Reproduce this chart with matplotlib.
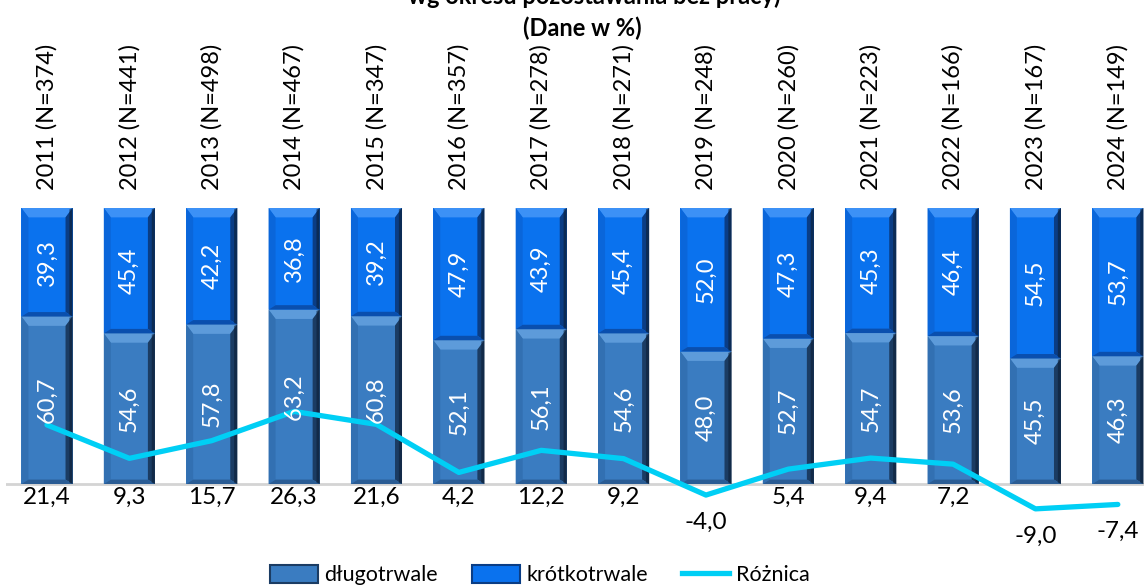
import matplotlib
matplotlib.use("Agg")
import matplotlib.pyplot as plt
from matplotlib.patches import Polygon, Patch
from matplotlib.lines import Line2D

plt.rcParams['font.family'] = ['Lato', 'DejaVu Sans']

years = ["2011", "2012", "2013", "2014", "2015", "2016", "2017", "2018", "2019",
         "2020", "2021", "2022", "2023", "2024"]
n_values = [374, 441, 498, 467, 347, 357, 278, 271, 248, 260, 223, 166, 167, 149]
dlugotrwale = [60.7, 54.6, 57.8, 63.2, 60.8, 52.1, 56.1, 54.6, 48.0, 52.7, 54.7, 53.6, 45.5, 46.3]
krotkotrwale = [39.3, 45.4, 42.2, 36.8, 39.2, 47.9, 43.9, 45.4, 52.0, 47.3, 45.3, 46.4, 54.5, 53.7]
roznica = [21.4, 9.3, 15.7, 26.3, 21.6, 4.2, 12.2, 9.2, -4.0, 5.4, 9.4, 7.2, -9.0, -7.4]
categories = [f"{y} (N={n})" for y, n in zip(years, n_values)]

def fmt(v):
    return f"{v:.1f}".replace(".", ",")

W, H = 1144, 586
fig = plt.figure(figsize=(W / 100, H / 100), dpi=100)
ax = fig.add_axes([5.8 / W, 1 - 519.9 / H, (1159 - 5.8) / W, (519.9 - 208) / H])
ax.set_xlim(-0.5, 13.5)
ax.set_ylim(-13, 100)
for s in ax.spines.values():
    s.set_visible(False)
ax.set_yticks([])

x = list(range(len(categories)))
bw = 0.62

dl_cols = dict(face='#3a7cc1', top='#5d9bda', left='#3270b2', right='#1b3c63', bottom='#2a5c94')
kr_cols = dict(face='#0a72ee', top='#3c91f6', left='#0a66da', right='#0a3d85', bottom='#0a4fae')

def bevel(ax, c, b, t, cols):
    w = bw / 2
    ex, ey, eb = 0.085, 3.4, 1.6
    ax.add_patch(Polygon([(c - w, t), (c + w, t), (c + w - ex, t - ey), (c - w + ex, t - ey)],
                         closed=True, facecolor=cols['top'], edgecolor='none', zorder=2.5))
    ax.add_patch(Polygon([(c - w, t), (c - w, b), (c - w + ex, b + eb), (c - w + ex, t - ey)],
                         closed=True, facecolor=cols['left'], edgecolor='none', zorder=2.5))
    ax.add_patch(Polygon([(c + w, t), (c + w, b), (c + w - ex, b + eb), (c + w - ex, t - ey)],
                         closed=True, facecolor=cols['right'], edgecolor='none', zorder=2.5))
    ax.add_patch(Polygon([(c + w - ex * 0.45, t - 0.5), (c + w - ex * 0.45, b + 0.5),
                          (c + w, b), (c + w, t)],
                         closed=True, facecolor='#0d1f36', edgecolor='none', alpha=0.6, zorder=2.6))
    ax.add_patch(Polygon([(c - w, b), (c + w, b), (c + w - ex, b + eb), (c - w + ex, b + eb)],
                         closed=True, facecolor=cols['bottom'], edgecolor='none', zorder=2.5))

ax.bar(x, dlugotrwale, width=bw, color=dl_cols['face'], zorder=2)
ax.bar(x, krotkotrwale, width=bw, bottom=dlugotrwale, color=kr_cols['face'], zorder=2)
for i in x:
    bevel(ax, i, 0, dlugotrwale[i], dl_cols)
    bevel(ax, i, dlugotrwale[i], dlugotrwale[i] + krotkotrwale[i], kr_cols)
    ax.text(i, dlugotrwale[i] / 2, fmt(dlugotrwale[i]), rotation=90, ha='center', va='center',
            color='white', fontsize=17, zorder=5)
    ax.text(i, dlugotrwale[i] + krotkotrwale[i] / 2, fmt(krotkotrwale[i]), rotation=90,
            ha='center', va='center', color='white', fontsize=17, zorder=5)

ax.axhline(0, color='#d4d4d4', lw=2, zorder=1.5)

ax.plot(x, roznica, color='#00cff5', lw=3.8, zorder=4, solid_capstyle='round')
for i, v in zip(x, roznica):
    if v >= 0:
        ax.annotate(fmt(v), (i, 0), xytext=(0, -13), textcoords='offset pixels',
                    ha='center', va='center', fontsize=17.5, color='black', zorder=6)
    else:
        ax.annotate(fmt(v), (i, v), xytext=(0, -27), textcoords='offset pixels',
                    ha='center', va='center', fontsize=17.5, color='black', zorder=6)

ax.set_xticks(x)
ax.set_xticklabels(categories, rotation=90, fontsize=17)
ax.xaxis.set_ticks_position('top')
ax.tick_params(axis='x', length=0, pad=13)

fig.text(594 / W, 1 - 4 / H, "wg okresu pozostawania bez pracy)", ha='center', va='baseline',
         fontsize=17, fontweight='bold')
fig.text(582 / W, 1 - 28 / H, "(Dane w %)", ha='center', va='center', fontsize=17,
         fontweight='bold')

handles = [Patch(facecolor=dl_cols['face'], edgecolor=dl_cols['right'], lw=1.5),
           Patch(facecolor=kr_cols['face'], edgecolor=kr_cols['right'], lw=1.5),
           Line2D([0], [0], color='#00cff5', lw=3.8)]
fig.legend(handles, ["długotrwale", "krótkotrwale", "Różnica"], loc='center',
           bbox_to_anchor=(540 / W, 1 - 575 / H), ncol=3, frameon=False, fontsize=15.5,
           handlelength=2.2, handleheight=0.95, handletextpad=0.3, columnspacing=1.6)

fig.savefig("out.png", dpi=100)
